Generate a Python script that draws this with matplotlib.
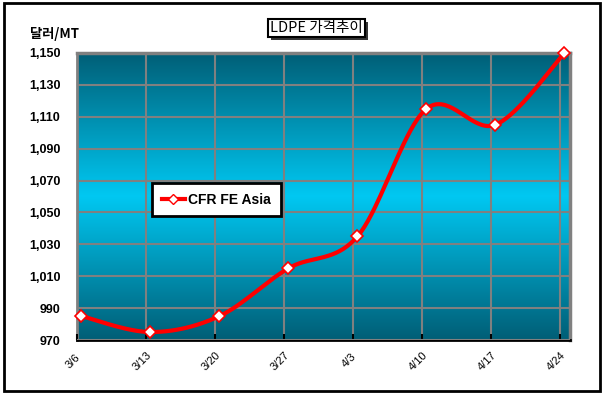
import numpy as np
import matplotlib
matplotlib.use("Agg")
import matplotlib.pyplot as plt
import matplotlib.patheffects as pe
from matplotlib.colors import LinearSegmentedColormap
from matplotlib.patches import Rectangle
from matplotlib.lines import Line2D
from matplotlib.transforms import ScaledTranslation

plt.rcParams['font.family'] = ['Liberation Sans', 'Noto Sans CJK KR', 'DejaVu Sans']

categories = ["3/6", "3/13", "3/20", "3/27", "4/3", "4/10", "4/17", "4/24"]
values = [985, 975, 985, 1015, 1035, 1115, 1105, 1150]
series_name = "CFR FE Asia"
title = "LDPE 가격추이"
ylabel = "달러/MT"
yticks = list(range(970, 1151, 20))


def catmull_rom(xs, ys, n=40):
    P = np.column_stack([xs, ys]).astype(float)
    P = np.vstack([P[0], P, P[-1]])
    out = []
    for i in range(1, len(P) - 2):
        p0, p1, p2, p3 = P[i - 1], P[i], P[i + 1], P[i + 2]
        t = np.linspace(0, 1, n)[:, None]
        seg = 0.5 * ((2 * p1) + (-p0 + p2) * t + (2 * p0 - 5 * p1 + 4 * p2 - p3) * t ** 2
                     + (-p0 + 3 * p1 - 3 * p2 + p3) * t ** 3)
        out.append(seg if i == 1 else seg[1:])
    out = np.vstack(out)
    return out[:, 0], out[:, 1]


fig = plt.figure(figsize=(6.04, 3.94), dpi=100)
fig.patches.append(Rectangle((0.006, 0.008), 0.988, 0.984, transform=fig.transFigure,
                             fill=False, edgecolor='black', linewidth=2, zorder=0))

ax = fig.add_axes([0.1275, 0.137, 0.8162, 0.7285])
off = 0.065
x = np.arange(len(categories))
ax.set_xlim(-off, len(categories) - 1 + 0.08)
ax.set_ylim(970, 1150)

cmap = LinearSegmentedColormap.from_list('g', ['#005E76', '#00C8F2', '#005E76'])
grad = np.linspace(0, 1, 256)[:, None]
ax.imshow(grad, cmap=cmap, aspect='auto', extent=[*ax.get_xlim(), 970, 1150],
          origin='upper', zorder=0, interpolation='bilinear')

ax.set_yticks(yticks)
ax.set_yticklabels([f"{v:,}" for v in yticks], fontsize=9, fontweight='bold')
ax.set_xticks(x - off)
ax.set_xticklabels(categories, rotation=45, ha='center', va='center', fontsize=8,
                   rotation_mode='anchor')
ax.tick_params(axis='y', length=0, pad=12)
ax.tick_params(axis='x', direction='in', length=4, width=1.5, color='black', pad=15)
shift = ScaledTranslation(-4 / 100, 0, fig.dpi_scale_trans)
for t in ax.get_xticklabels():
    t.set_transform(t.get_transform() + shift)

ax.grid(True, color='#808080', linewidth=1.5, zorder=1)
ax.set_axisbelow(False)
for side in ['top', 'right', 'left']:
    ax.spines[side].set_color('#808080')
ax.spines['top'].set_linewidth(2.5)
ax.spines['right'].set_linewidth(2.5)
ax.spines['left'].set_linewidth(2)
ax.spines['bottom'].set_color('black')
ax.spines['bottom'].set_linewidth(2)

sx, sy = catmull_rom(x, values)
ax.plot(sx, sy, color='#FF0000', linewidth=3, zorder=3, clip_on=False)
ax.plot(x, values, linestyle='none', marker='D', markersize=6, markerfacecolor='white',
        markeredgecolor='#FF0000', markeredgewidth=1.2, zorder=4, clip_on=False)

# legend
h = Line2D([], [], color='#FF0000', linewidth=3, marker='D', markersize=5,
           markerfacecolor='white', markeredgecolor='#FF0000')
leg = ax.legend([h], [series_name], loc='upper left', bbox_to_anchor=(0.152, 0.547),
                frameon=True, fancybox=False, edgecolor='black', framealpha=1,
                prop={'weight': 'bold', 'size': 10}, handlelength=1.7, borderpad=0.7,
                handletextpad=0.2, borderaxespad=0)
leg.get_frame().set_linewidth(2)

fig.text(0.05, 0.913, ylabel, fontsize=9.5, fontweight='bold', ha='left', va='center',
         family=['Noto Sans CJK KR', 'DejaVu Sans'])
tt = fig.text(0.524, 0.929, title, fontsize=10.5, ha='center', va='center',
              family=['Noto Sans CJK KR', 'DejaVu Sans'],
              bbox=dict(boxstyle='square,pad=0.15', facecolor='white', edgecolor='black',
                        linewidth=1.5))
tt.get_bbox_patch().set_path_effects([
    pe.SimplePatchShadow(offset=(2, -2), shadow_rgbFace='#202020', alpha=0.9), pe.Normal()])

fig.savefig('out.png', dpi=100)
